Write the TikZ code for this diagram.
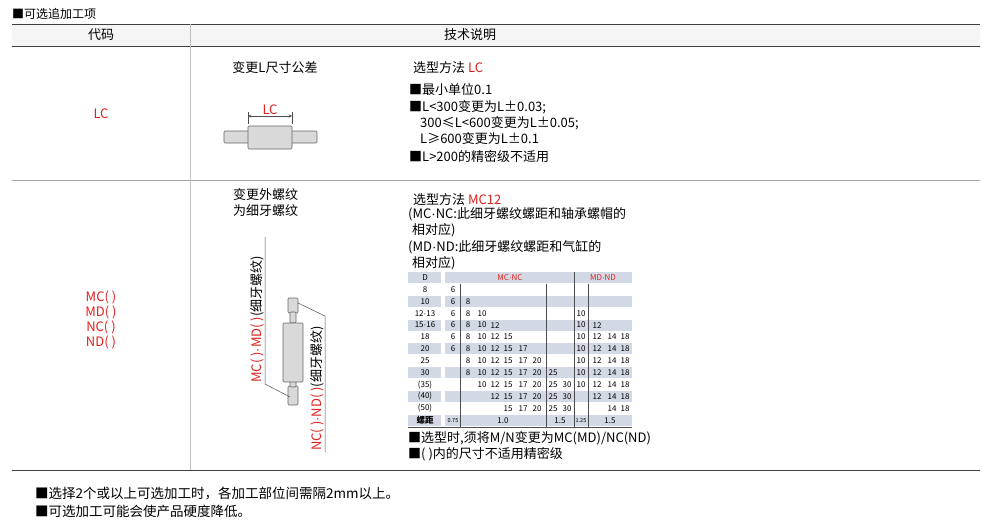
\documentclass[tikz,border=0pt]{standalone}
\usepackage{fontspec}
\setmainfont{Noto Sans CJK SC}
\newfontfamily\lat{Liberation Sans}
\newcommand\md{{\lat ·}}
\begin{document}
\begin{tikzpicture}[x=1pt,y=-1pt,
  txt/.style={inner sep=0pt,anchor=west,font=\fontsize{13}{15}\selectfont},
  ctxt/.style={inner sep=0pt,font=\fontsize{13}{15}\selectfont},
  red/.style={text=rd},
  tb/.style={inner sep=0pt,font=\fontsize{8}{9}\selectfont},
  rule/.style={draw=black!75,line width=0.8pt},
  part/.style={draw=black!60,fill=black!15,line width=0.6pt,rounded corners=1pt},
  lead/.style={draw=black!70,line width=0.5pt}]
\definecolor{rd}{HTML}{E0201E}
\definecolor{tg}{HTML}{D3D9E4}
\useasboundingbox (0,0) rectangle (992,527);
\node[txt,font=\fontsize{12}{14}\selectfont] (title) at (12,14) {■可选追加工项};
\fill[black!4] (12,24) rectangle (980,46);
\draw[rule] (12,24) -- (980,24);
\draw[rule] (12,46) -- (980,46);
\draw[draw=black!35] (12,180) -- (980,180);
\draw[rule] (12,470) -- (980,470);
\draw[draw=black!25] (190,24) -- (190,470);
\node[ctxt] (h1) at (101,35) {代码};
\node[ctxt] (h2) at (470,35) {技术说明};
% row 1
\node[ctxt,red] (lc) at (101,114) {LC};
\node[ctxt] (lct) at (275,68) {变更L尺寸公差};
\draw[part] (224,131) rectangle (249,143);
\draw[part] (291,131) rectangle (317,143);
\draw[part] (248,126) rectangle (292,149);
\draw[black!70,line width=0.5pt] (248,124) -- (248,112) (292,124) -- (292,112);
\draw[black!70,line width=0.5pt,<->,>=stealth] (248,116) -- (292,116);
\node[ctxt,red,fill=white,inner sep=1pt] (lcd) at (270,110) {LC};
\node[txt] (s1) at (413,68) {选型方法 \textcolor{rd}{LC}};
\node[txt] (s2) at (409,90) {■最小单位0.1};
\node[txt] (s3) at (409,107) {■L<300变更为L±0.03;};
\node[txt] (s4) at (420,123) {300≤L<600变更为L±0.05;};
\node[txt] (s5) at (420,139) {L≥600变更为L±0.1};
\node[txt] (s6) at (409,157) {■L>200的精密级不适用};
% row 2
\node[ctxt,red,align=center] (mc) at (101,320) {MC( )\\MD( )\\NC( )\\ND( )};
\node[txt] (w1) at (233,195) {变更外螺纹};
\node[txt] (w2) at (233,211) {为细牙螺纹};
\draw[part] (288,298) rectangle (298,313);
\draw[part] (288,386) rectangle (298,405);
\draw[part] (290,312) rectangle (296,323);
\draw[part] (290,381) rectangle (296,387);
\draw[part] (283,323) rectangle (303,382);
\coordinate (a1) at (265,237); \coordinate (a2) at (265,384); \coordinate (a3) at (290,397);
\draw[lead] (a1) -- (a2) -- (a3);
\coordinate (b1) at (298,303); \coordinate (b2) at (325,316); \coordinate (b3) at (325,452);
\draw[lead] (b1) -- (b2) -- (b3);
\node[ctxt,rotate=90,anchor=south west,inner sep=1pt] (v1) at (a2) {\textcolor{rd}{MC( )\md MD( )}(细牙螺纹)};
\node[ctxt,rotate=90,anchor=south west,inner sep=1pt] (v2) at (b3) {\textcolor{rd}{NC( )\md ND( )}(细牙螺纹)};
\node[txt] (m1) at (413,200) {选型方法 \textcolor{rd}{MC12}};
\node[txt] (m2) at (408,214) {(MC\md NC:此细牙螺纹螺距和轴承螺帽的};
\node[txt] (m3) at (412,230) {相对应)};
\node[txt] (m4) at (408,247) {(MD\md ND:此细牙螺纹螺距和气缸的};
\node[txt] (m5) at (412,263) {相对应)};
% table
\foreach \i in {0,2,4,6,8,10,12}{
  \fill[tg] (408,{272+11.9*\i}) rectangle (441,{272+11.9*\i+11});
  \fill[tg] (445,{272+11.9*\i}) rectangle (632,{272+11.9*\i+11});
}
\fill[white] (441,272) rectangle (445,427);
\draw[black!70,line width=0.6pt] (460,283.5) -- (460,427) (546,283.5) -- (546,427) (574,272) -- (574,427) (588,283.5) -- (588,427);
\draw[black!70,line width=0.6pt] (408,427) -- (632,427);
\node[tb] (td) at (425,277.5) {D};
\node[tb,text=rd] (tmc) at (510,277.5) {MC\md NC};
\node[tb,text=rd] (tmd) at (603,277.5) {MD\md ND};
\def\pA{453}\def\pa{468}\def\pb{482}\def\pc{495}\def\pd{508}\def\pe{523}\def\pf{537}\def\pg{553}\def\ph{567}\def\pI{581}\def\pj{597}\def\pk{612}\def\pl{625}
\foreach \r/\lab/\lst in {1/8/{\pA/6},
  2/10/{\pA/6,\pa/8},
  3/12\md13/{\pA/6,\pa/8,\pb/10,\pI/10},
  4/15\md16/{\pA/6,\pa/8,\pb/10,\pc/12,\pI/10,\pj/12},
  5/18/{\pA/6,\pa/8,\pb/10,\pc/12,\pd/15,\pI/10,\pj/12,\pk/14,\pl/18},
  6/20/{\pA/6,\pa/8,\pb/10,\pc/12,\pd/15,\pe/17,\pI/10,\pj/12,\pk/14,\pl/18},
  7/25/{\pa/8,\pb/10,\pc/12,\pd/15,\pe/17,\pf/20,\pI/10,\pj/12,\pk/14,\pl/18},
  8/30/{\pa/8,\pb/10,\pc/12,\pd/15,\pe/17,\pf/20,\pg/25,\pI/10,\pj/12,\pk/14,\pl/18},
  9/(35)/{\pb/10,\pc/12,\pd/15,\pe/17,\pf/20,\pg/25,\ph/30,\pI/10,\pj/12,\pk/14,\pl/18},
  10/(40)/{\pc/12,\pd/15,\pe/17,\pf/20,\pg/25,\ph/30,\pj/12,\pk/14,\pl/18},
  11/(50)/{\pd/15,\pe/17,\pf/20,\pg/25,\ph/30,\pk/14,\pl/18}}{
  \node[tb] (rl\r) at (425,{277.5+11.9*\r}) {\lab};
  \foreach \x/\v in \lst { \node[tb] at (\x,{277.5+11.9*\r}) {\v}; }
}
\node[tb,font=\fontsize{8.5}{9}\selectfont\bfseries] (lj) at (425,420.3) {螺距};
\node[tb,font=\fontsize{5.5}{6}\selectfont] (z1) at (453,420.3) {0.75};
\node[tb] (z2) at (503,420.3) {1.0};
\node[tb] (z3) at (560,420.3) {1.5};
\node[tb,font=\fontsize{5.5}{6}\selectfont] (z4) at (581,420.3) {1.25};
\node[tb] (z5) at (610,420.3) {1.5};
\node[txt] (n1) at (408,438) {■选型时,须将M/N变更为MC(MD)/NC(ND)};
\node[txt] (n2) at (408,454) {■( )内的尺寸不适用精密级};
\node[txt,font=\fontsize{13.5}{15}\selectfont] (f1) at (35,493) {■选择2个或以上可选加工时，各加工部位间需隔2mm以上。};
\node[txt,font=\fontsize{13.5}{15}\selectfont] (f2) at (35,511) {■可选加工可能会使产品硬度降低。};
\end{tikzpicture}
\end{document}
